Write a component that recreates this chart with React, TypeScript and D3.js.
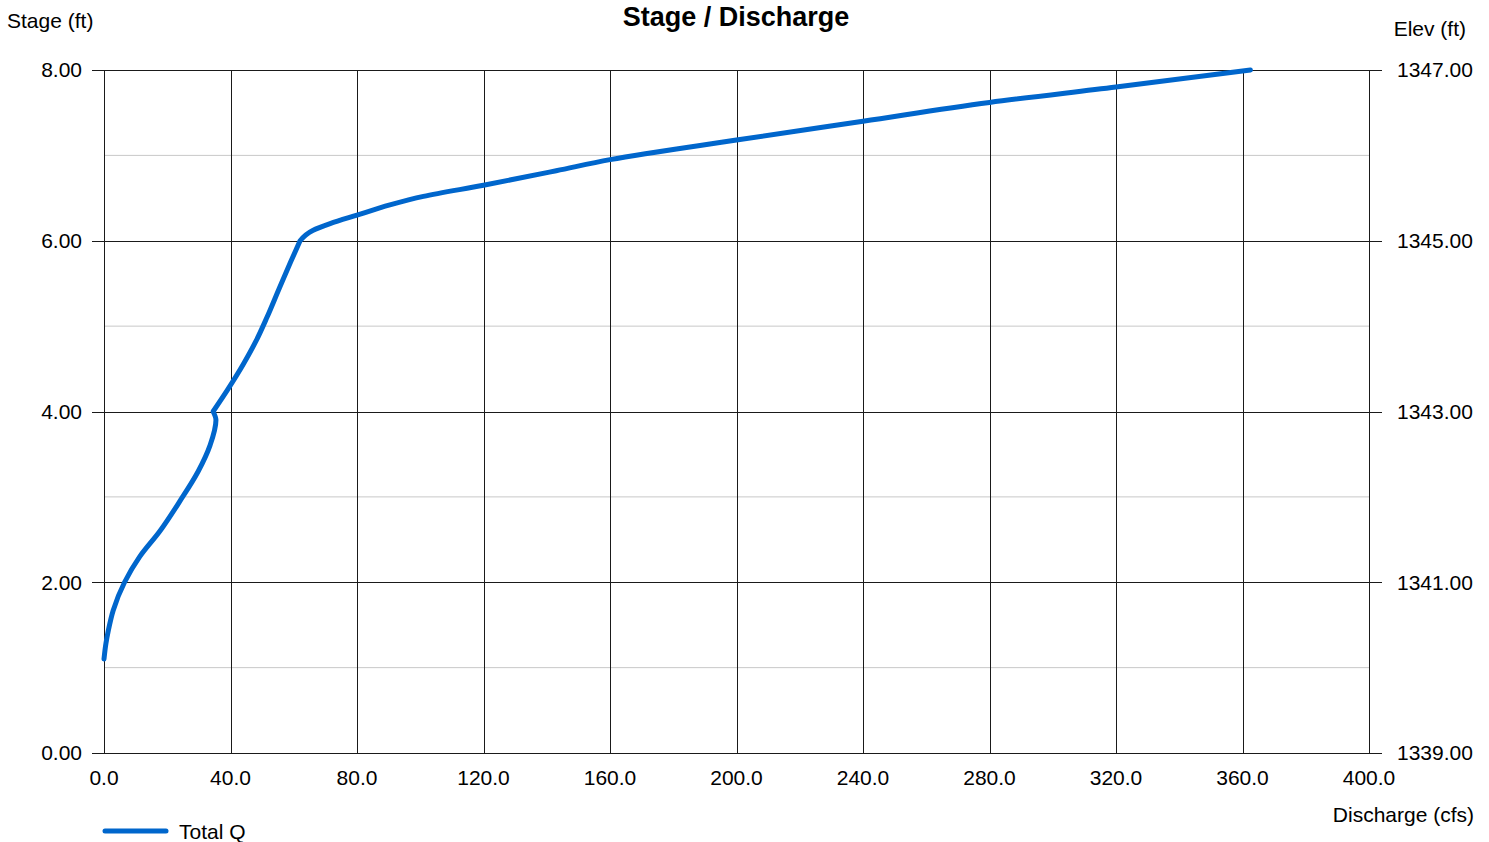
import React, { useRef, useEffect } from 'react';
import * as d3 from 'd3';

// Stage / discharge rating (three reaches, sharp breaks at 4.0 and 6.0 ft)
const dischargeLow = [0, 0.6, 1.4, 2.9, 6.5, 11.3, 17.7, 24, 29.8, 33.5, 35.4, 34.5];
const stageLow = [1.1, 1.28, 1.44, 1.67, 2.0, 2.3, 2.6, 2.95, 3.3, 3.6, 3.9, 4.0];
const dischargeMid = [34.5, 39, 44, 48, 51.5, 55.5, 59, 62];
const stageMid = [4.0, 4.25, 4.55, 4.82, 5.1, 5.45, 5.75, 6.0];
const dischargeHigh = [62, 66, 71.5, 80, 90.4, 101, 120, 143, 160, 200, 240, 280, 320, 362.5];
const stageHigh = [6.0, 6.12, 6.2, 6.3, 6.42, 6.52, 6.65, 6.82, 6.95, 7.18, 7.4, 7.62, 7.8, 8.0];

const xTicks = [0, 40, 80, 120, 160, 200, 240, 280, 320, 360, 400];
const yMajor = [0, 2, 4, 6, 8];
const yMinor = [1, 3, 5, 7];
const elevBase = 1339;

const FONT = '"Liberation Sans", Arial, sans-serif';
const FS = 21;

export default function App() {
    const svgRef = useRef<SVGSVGElement>(null);

    useEffect(() => {
        if (!svgRef.current) return;
        const width = 1489;
        const height = 842;
        const margin = { top: 70, right: 120, bottom: 89, left: 104 };

        const svg = d3.select(svgRef.current)
            .attr('width', width)
            .attr('height', height);
        svg.selectAll('*').remove();

        const x = d3.scaleLinear().domain([0, 400]).range([margin.left, width - margin.right]);
        const y = d3.scaleLinear().domain([0, 8]).range([height - margin.bottom, margin.top]);

        const x0 = x(0), x1 = x(400), yTop = y(8), yBot = y(0);

        // minor gridlines
        svg.append('g').selectAll('line').data(yMinor).join('line')
            .attr('x1', x0).attr('x2', x1)
            .attr('y1', d => y(d)).attr('y2', d => y(d))
            .attr('stroke', '#c8c8c8').attr('stroke-width', 1);

        // major gridlines with outside ticks on both sides
        svg.append('g').selectAll('line').data(yMajor).join('line')
            .attr('x1', x0 - 12).attr('x2', x1 + 13)
            .attr('y1', d => Math.round(y(d)) + 0.5).attr('y2', d => Math.round(y(d)) + 0.5)
            .attr('stroke', '#1a1a1a').attr('stroke-width', 1);

        svg.append('g').selectAll('line').data(xTicks).join('line')
            .attr('x1', d => Math.round(x(d)) + 0.5).attr('x2', d => Math.round(x(d)) + 0.5)
            .attr('y1', yTop).attr('y2', yBot)
            .attr('stroke', '#1a1a1a').attr('stroke-width', 1);

        // tick labels
        svg.append('g').selectAll('text').data(yMajor).join('text')
            .attr('x', x0 - 22).attr('y', d => y(d))
            .attr('dy', '0.35em')
            .attr('text-anchor', 'end')
            .attr('font-family', FONT).attr('font-size', FS).attr('fill', '#000')
            .text(d => d.toFixed(2));

        svg.append('g').selectAll('text').data(yMajor).join('text')
            .attr('x', x1 + 28).attr('y', d => y(d))
            .attr('dy', '0.35em')
            .attr('text-anchor', 'start')
            .attr('font-family', FONT).attr('font-size', FS).attr('fill', '#000')
            .text(d => (d + elevBase).toFixed(2));

        svg.append('g').selectAll('text').data(xTicks).join('text')
            .attr('x', d => x(d)).attr('y', yBot + 32)
            .attr('text-anchor', 'middle')
            .attr('font-family', FONT).attr('font-size', FS).attr('fill', '#000')
            .text(d => d.toFixed(1));

        // axis titles
        svg.append('text')
            .attr('x', 7).attr('y', 28)
            .attr('font-family', FONT).attr('font-size', FS).attr('fill', '#000')
            .text('Stage (ft)');

        svg.append('text')
            .attr('x', 1466).attr('y', 36)
            .attr('text-anchor', 'end')
            .attr('font-family', FONT).attr('font-size', FS).attr('fill', '#000')
            .text('Elev (ft)');

        svg.append('text')
            .attr('x', 1474).attr('y', 822)
            .attr('text-anchor', 'end')
            .attr('font-family', FONT).attr('font-size', FS).attr('fill', '#000')
            .text('Discharge (cfs)');

        svg.append('text')
            .attr('x', 736).attr('y', 26)
            .attr('text-anchor', 'middle')
            .attr('font-family', FONT).attr('font-size', 27).attr('font-weight', 'bold').attr('fill', '#000')
            .text('Stage / Discharge');

        // curve, smooth within each reach
        const line = d3.line<[number, number]>()
            .x(d => x(d[0]))
            .y(d => y(d[1]))
            .curve(d3.curveMonotoneY);

        const reaches: [number[], number[]][] = [
            [dischargeLow, stageLow],
            [dischargeMid, stageMid],
            [dischargeHigh, stageHigh],
        ];
        const pathD = reaches
            .map(([q, s], i) => {
                const seg = line(q.map((v, j) => [v, s[j]] as [number, number])) || '';
                return i === 0 ? seg : 'L' + seg.slice(1);
            })
            .join('');

        svg.append('path')
            .attr('fill', 'none')
            .attr('stroke', '#0066cc')
            .attr('stroke-width', 5)
            .attr('stroke-linejoin', 'round')
            .attr('stroke-linecap', 'round')
            .attr('d', pathD);

        // legend
        svg.append('line')
            .attr('x1', 105).attr('x2', 166)
            .attr('y1', 831).attr('y2', 831)
            .attr('stroke', '#0066cc').attr('stroke-width', 5)
            .attr('stroke-linecap', 'round');

        svg.append('text')
            .attr('x', 179).attr('y', 839)
            .attr('font-family', FONT).attr('font-size', FS).attr('fill', '#000')
            .text('Total Q');
    }, []);

    return (
        <svg ref={svgRef} style={{ position: 'absolute', left: 0, top: 0, background: '#fff' }} />
    );
}
